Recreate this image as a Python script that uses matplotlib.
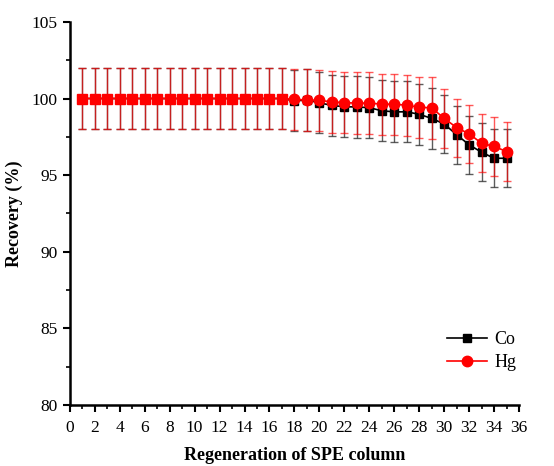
import numpy as np
import matplotlib.pyplot as plt

plt.rcParams['font.family'] = ['Liberation Serif', 'DejaVu Serif']

cycles = list(range(1, 36))
co = [100.0] * 17 + [99.85, 99.9, 99.72, 99.55, 99.46, 99.45, 99.4, 99.2, 99.13,
                     99.13, 98.97, 98.7, 98.34, 97.63, 96.98, 96.49, 96.1, 96.1]
hg = [100.0] * 17 + [99.95, 99.9, 99.88, 99.78, 99.73, 99.7, 99.7, 99.63, 99.63,
                     99.56, 99.43, 99.39, 98.7, 98.1, 97.69, 97.08, 96.87, 96.54]
co_err = [2.0] * 29 + [1.9] * 6
hg_err = [2.0] * 29 + [1.9] * 6
n_square = 17  # first runs are drawn with red square markers in the original

fig = plt.figure(figsize=(5.54, 4.66), dpi=100)
ax = fig.add_axes([0.126, 0.131, 0.811, 0.822])

ax.errorbar(cycles, co, yerr=co_err, color='black', marker='s', markersize=6,
            linewidth=1.2, ecolor=(0.2, 0.2, 0.2, 0.8), elinewidth=1.0,
            capsize=3, capthick=1.0, label='Co', zorder=2)
ax.errorbar(cycles, hg, yerr=hg_err, color='red', marker='o', markersize=7.5,
            markevery=list(range(n_square, len(cycles))),
            linewidth=1.2, ecolor=(1, 0, 0, 0.65), elinewidth=1.0,
            capsize=3, capthick=1.0, label='Hg', zorder=3)
ax.plot(cycles[:n_square], hg[:n_square], linestyle='none', marker='s',
        markersize=6.5, color='red', zorder=4)

ax.set_xlim(0, 36)
ax.set_ylim(80, 105)
ax.set_xticks(np.arange(0, 37, 2))
ax.set_xticks(np.arange(0, 37, 1), minor=True)
ax.set_yticks(np.arange(80, 106, 5))
ax.set_yticks(np.arange(80, 106, 2.5), minor=True)
ax.tick_params(axis='x', which='major', direction='out', length=5, width=1.5,
               labelsize=12.5, pad=6)
ax.tick_params(axis='y', which='major', direction='out', length=5, width=1.5,
               labelsize=12.5, pad=4)
ax.tick_params(axis='both', which='minor', direction='out', length=3, width=1.2)

for s in ['top', 'right']:
    ax.spines[s].set_visible(False)
for s in ['left', 'bottom']:
    ax.spines[s].set_linewidth(1.8)

ax.set_xlabel('Regeneration of SPE column', fontsize=13, fontweight='bold',
              labelpad=8)
ax.set_ylabel('Recovery (%)', fontsize=13, fontweight='bold', labelpad=6)

handles, labels = ax.get_legend_handles_labels()
handles = [h[0] for h in handles]
ax.legend(handles, labels, loc='lower right', bbox_to_anchor=(1.03, 0.045),
          frameon=False, fontsize=13, handlelength=2.2, labelspacing=0.35,
          handletextpad=0.4)

fig.savefig('out.png', dpi=100)
